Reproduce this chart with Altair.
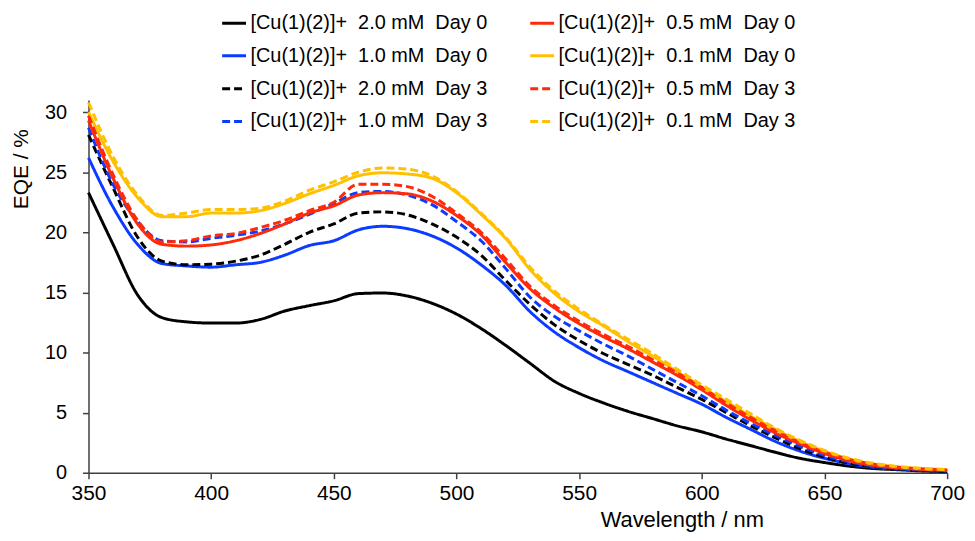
import altair as alt
import pandas as pd

wavelength = list(range(350, 701, 10))

cu_20_day0 = [23.3, 19.0, 14.8, 12.9, 12.55, 12.45, 12.45, 12.75, 13.45, 13.9, 14.3, 14.9,
              14.95, 14.7, 14.1, 13.2, 12.0, 10.6, 9.1, 7.6, 6.6, 5.8, 5.1, 4.5, 3.9, 3.4,
              2.8, 2.25, 1.7, 1.2, 0.85, 0.55, 0.35, 0.25, 0.15, 0.1]
cu_10_day0 = [26.2, 22.1, 19.0, 17.4, 17.2, 17.1, 17.3, 17.5, 18.1, 18.9, 19.3, 20.2,
              20.5, 20.3, 19.7, 18.7, 17.3, 15.6, 13.4, 11.7, 10.4, 9.3, 8.4, 7.5, 6.6, 5.7,
              4.6, 3.6, 2.6, 1.8, 1.2, 0.75, 0.45, 0.3, 0.2, 0.15]
cu_20_day3 = [28.1, 23.7, 19.6, 17.6, 17.3, 17.35, 17.6, 18.1, 19.0, 20.0, 20.7, 21.6,
              21.7, 21.45, 20.7, 19.6, 18.1, 16.0, 14.0, 12.3, 11.0, 9.9, 9.0, 8.1, 7.1, 6.1,
              5.0, 3.9, 2.9, 2.0, 1.3, 0.8, 0.5, 0.32, 0.22, 0.15]
cu_10_day3 = [28.7, 24.0, 20.9, 19.3, 19.2, 19.5, 19.75, 20.1, 20.7, 21.5, 22.4, 23.3,
              23.4, 23.1, 22.3, 20.9, 19.3, 17.0, 14.6, 13.0, 11.8, 10.7, 9.7, 8.6, 7.5, 6.4,
              5.2, 4.1, 3.1, 2.2, 1.45, 0.9, 0.55, 0.37, 0.25, 0.18]
cu_05_day0 = [29.3, 24.5, 20.7, 19.0, 18.85, 18.95, 19.3, 19.9, 20.7, 21.6, 22.2, 23.1,
              23.3, 23.2, 22.6, 21.4, 19.8, 17.5, 15.3, 13.7, 12.4, 11.3, 10.3, 9.2, 8.1, 6.9,
              5.6, 4.4, 3.3, 2.4, 1.6, 1.0, 0.6, 0.4, 0.28, 0.2]
cu_01_day0 = [30.0, 25.9, 22.9, 21.3, 21.3, 21.6, 21.6, 21.8, 22.4, 23.2, 23.9, 24.7,
              24.95, 24.85, 24.5, 23.3, 21.5, 19.5, 16.9, 14.9, 13.4, 12.2, 10.9, 9.7, 8.4, 7.1,
              5.9, 4.7, 3.6, 2.6, 1.8, 1.15, 0.72, 0.48, 0.33, 0.25]
cu_05_day3 = [29.7, 24.8, 21.0, 19.2, 19.3, 19.7, 19.9, 20.4, 21.0, 21.8, 22.5, 24.0,
              24.0, 23.8, 23.0, 21.6, 20.0, 17.8, 15.5, 13.9, 12.6, 11.5, 10.5, 9.4, 8.3, 7.1,
              5.8, 4.6, 3.5, 2.5, 1.7, 1.1, 0.7, 0.45, 0.32, 0.22]
cu_01_day3 = [30.8, 26.3, 23.1, 21.4, 21.6, 21.9, 21.9, 22.0, 22.6, 23.5, 24.2, 25.0,
              25.35, 25.25, 24.7, 23.4, 21.6, 19.6, 17.1, 15.1, 13.6, 12.3, 11.1, 9.9, 8.6, 7.3,
              6.1, 4.9, 3.7, 2.7, 1.85, 1.2, 0.78, 0.52, 0.36, 0.27]

S = "\u00a0 "
labels = [
    f"[Cu(1)(2)]+{S}2.0 mM{S}Day 0",
    f"[Cu(1)(2)]+{S}1.0 mM{S}Day 0",
    f"[Cu(1)(2)]+{S}2.0 mM{S}Day 3",
    f"[Cu(1)(2)]+{S}1.0 mM{S}Day 3",
    f"[Cu(1)(2)]+{S}0.5 mM{S}Day 0",
    f"[Cu(1)(2)]+{S}0.1 mM{S}Day 0",
    f"[Cu(1)(2)]+{S}0.5 mM{S}Day 3",
    f"[Cu(1)(2)]+{S}0.1 mM{S}Day 3",
]
series_values = [cu_20_day0, cu_10_day0, cu_20_day3, cu_10_day3,
                 cu_05_day0, cu_01_day0, cu_05_day3, cu_01_day3]
colors = ["#000000", "#0B3BFF", "#000000", "#0B3BFF",
          "#FF2A0A", "#FFC000", "#FF2A0A", "#FFC000"]
dashes = [[1, 0], [1, 0], [8, 4], [8, 4], [1, 0], [1, 0], [8, 4], [8, 4]]

rows = []
for order, (lab, vals) in enumerate(zip(labels, series_values)):
    for w, v in zip(wavelength, vals):
        rows.append({"wavelength": w, "eqe": v, "series": lab, "order": order})
df = pd.DataFrame(rows)

FONT = "Liberation Sans"

legend = alt.Legend(
    title=None, orient="none", legendX=133, legendY=-91, columns=2,
    columnPadding=36, rowPadding=9, symbolType="stroke", symbolSize=576,
    symbolStrokeWidth=3, labelFontSize=20, labelFont=FONT, labelColor="#000000",
    labelLimit=400, labelOffset=3,
)

chart = alt.Chart(df).mark_line(strokeWidth=3, interpolate="monotone").encode(
    x=alt.X("wavelength:Q",
            scale=alt.Scale(domain=[350, 700], nice=False, zero=False),
            axis=alt.Axis(values=[350, 400, 450, 500, 550, 600, 650, 700],
                          title="Wavelength / nm", labelFontSize=21, titleFontSize=22,
                          labelPadding=4, labelFlush=False, titleX=597, titleY=47,
                          titleBaseline="middle", titleAlign="center")),
    y=alt.Y("eqe:Q",
            scale=alt.Scale(domain=[0, 31], nice=False),
            axis=alt.Axis(values=[0, 5, 10, 15, 20, 25, 30], title="EQE / %",
                          labelFontSize=20, titleFontSize=21, labelPadding=16,
                          titleX=-67, titleY=69, titleAngle=270,
                          titleBaseline="middle", titleAlign="center")),
    color=alt.Color("series:N", scale=alt.Scale(domain=labels, range=colors), legend=legend),
    strokeDash=alt.StrokeDash("series:N", scale=alt.Scale(domain=labels, range=dashes), legend=legend),
    order=alt.Order("order:Q"),
).properties(
    width=864, height=375,
    padding={"left": 81, "top": 91, "right": 20, "bottom": 59},
    autosize=alt.AutoSizeParams(type="none"),
).configure_view(stroke=None).configure_axis(
    grid=False, domainColor="#404040", tickColor="#404040", domainWidth=1.5,
    tickWidth=1.5, tickSize=6, labelFont=FONT, titleFont=FONT,
    labelColor="#000000", titleColor="#000000", titleFontWeight="normal",
)

chart.save("out.html", embed_options={"renderer": "svg", "actions": False})
